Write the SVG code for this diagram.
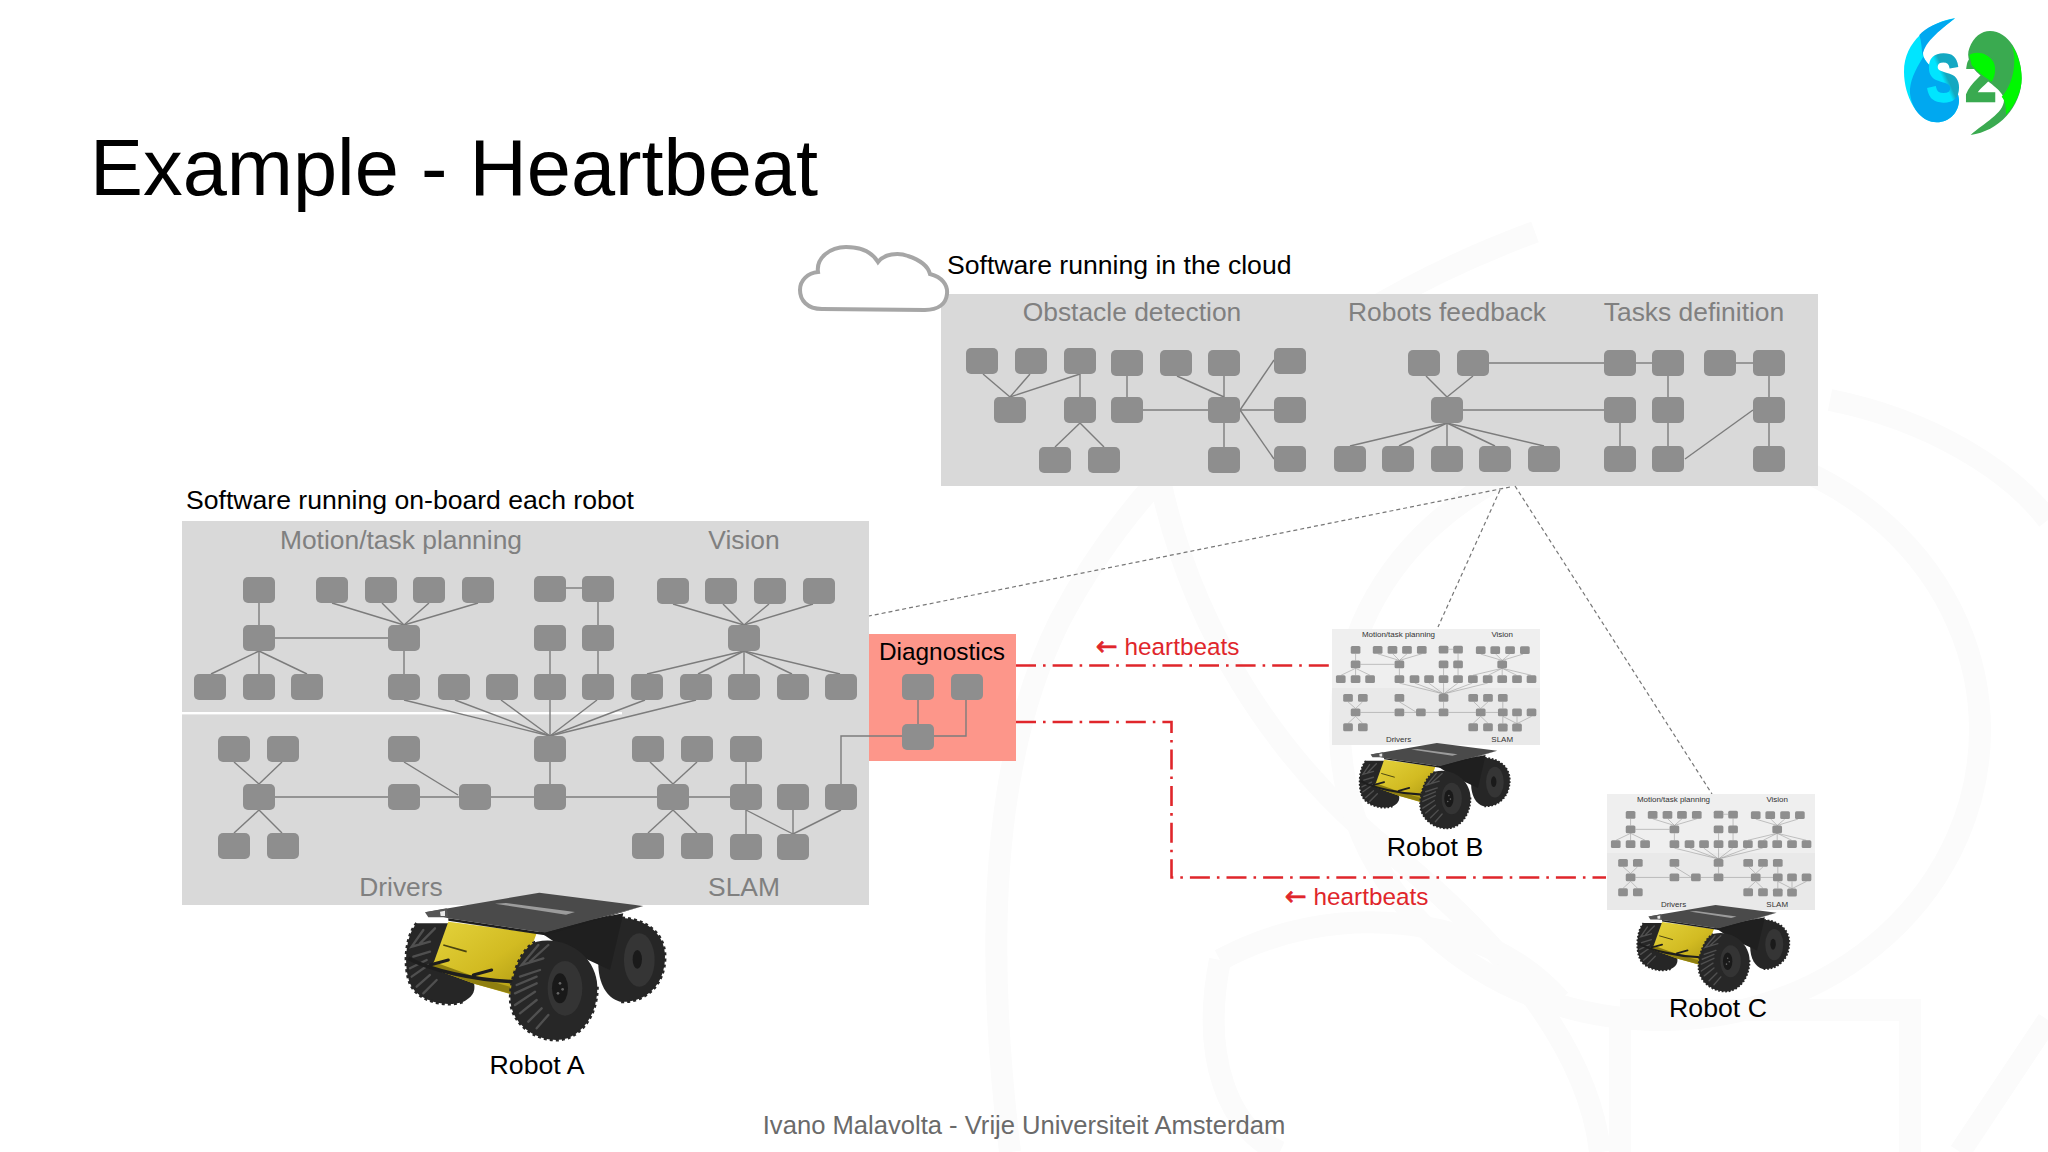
<svg xmlns="http://www.w3.org/2000/svg" xmlns:xlink="http://www.w3.org/1999/xlink" width="2048" height="1152" viewBox="0 0 2048 1152">
<style>
text{font-family:"Liberation Sans",Arial,sans-serif}
.n{fill:#8e8e8e;rx:5px;ry:5px}
.l line,.l polyline{stroke:#7c7c7c;stroke-width:1.4;fill:none}
.lab{font-size:26.4px;text-anchor:middle;fill:currentColor}
.cap{font-size:26.6px;fill:#000}
.rb{font-size:26.7px;fill:#000;text-anchor:middle}
.hb{font-size:24.3px;fill:#e0262b}
.arw{font-family:"DejaVu Sans",sans-serif;font-size:26px;stroke:#e0262b;stroke-width:.7}
.red{stroke:#e0262b;stroke-width:2.6;fill:none;stroke-dasharray:20 7 2.6 7}
.dash{stroke:#777;stroke-width:1.2;fill:none;stroke-dasharray:4 3}
.wm{fill:none;stroke:#fbfbfb;stroke-width:22}
.tread{fill:none;stroke:#505050;stroke-width:7;stroke-linecap:round}
.knob{fill:none;stroke:#262626;stroke-width:9;stroke-dasharray:9 9}
</style>
<defs>
<linearGradient id="yel" x1="0" y1="0" x2="1" y2="1"><stop offset="0" stop-color="#e4d33c"/><stop offset=".55" stop-color="#d2bb22"/><stop offset="1" stop-color="#a89410"/></linearGradient>
<linearGradient id="sg" x1="0" y1="1" x2="1" y2="0"><stop offset="0" stop-color="#00e5ff"/><stop offset=".48" stop-color="#00e5ff"/><stop offset=".56" stop-color="#14a8c0"/><stop offset="1" stop-color="#14a8c8"/></linearGradient>
<linearGradient id="tg" x1="0" y1="0" x2="0" y2="1"><stop offset="0" stop-color="#3aaa50"/><stop offset="1" stop-color="#3aaa50"/></linearGradient>
<g id="robot">
<path d="M110,130C75,170 70,260 90,310C110,360 190,385 250,365C290,345 285,320 280,300L210,130Z" fill="#262626"/>
<path class="knob" d="M110,130C75,170 70,260 90,310C110,360 190,385 250,365"/>
<path class="tread" d="M130,150L95,200L150,185M165,145L120,190M100,230L150,215M90,265L140,240M95,290L145,255M130,340L170,300M110,320L150,285"/>
<path d="M690,115C780,105 855,150 855,230C855,320 790,370 720,365C680,355 655,310 655,250Z" fill="#262626"/>
<path class="knob" d="M690,115C780,105 855,150 855,230C855,320 790,370 720,365"/>
<ellipse cx="778" cy="240" rx="46" ry="80" fill="#353535"/>
<ellipse cx="772" cy="238" rx="14" ry="28" fill="#1a1a1a"/>
<path d="M470,150L730,100L690,270L560,210Z" fill="#1f1f1f"/>
<path d="M205,125L470,160L400,345L285,312L155,265Z" fill="url(#yel)"/>
<path d="M155,265L285,312L395,342L390,320L285,290L160,245Z" fill="#8f7f10"/>
<path d="M190,195L260,215" stroke="#4a4410" stroke-width="5" fill="none"/>
<path d="M85,235C150,270 280,300 400,305" stroke="#1e1e1e" stroke-width="11" fill="none"/>
<path d="M150,255L205,240M280,285L335,270" stroke="#1e1e1e" stroke-width="9" stroke-linecap="round" fill="none"/>
<path d="M470,185C560,165 650,230 652,320C652,420 590,480 530,480C460,480 400,430 392,370C385,310 420,200 470,185Z" fill="#272727"/>
<path class="knob" d="M652,320C652,420 590,480 530,480C460,480 400,430 392,370C385,310 420,200 470,185"/>
<path class="tread" d="M475,195L425,255L490,235M505,195L450,245M420,290L480,270M410,315L470,290M405,340L470,310M405,375L465,335M420,400L470,360M445,425L485,385M470,445L505,405"/>
<ellipse cx="555" cy="325" rx="52" ry="82" fill="#343434"/>
<ellipse cx="540" cy="325" rx="24" ry="45" fill="#191919"/>
<circle cx="540" cy="310" r="4" fill="#666"/><circle cx="548" cy="328" r="4" fill="#666"/><circle cx="534" cy="340" r="4" fill="#666"/>
<path d="M135,97L478,38L790,78L495,158L205,115Z" fill="#4a4a4a"/>
<path d="M205,115L495,158L790,78L495,166L205,122Z" fill="#1e1e1e"/>
<path d="M135,97L200,85L205,112L145,112Z" fill="#555"/>
<path d="M180,95L195,92L195,108L182,108Z" fill="#e8e8e8"/>
<path d="M345,71L378,69L585,96L558,104Z" fill="#9c9c9c"/>
</g>
</defs>
<rect width="2048" height="1152" fill="#fff"/>
<g id="watermark">
<path class="wm" d="M1535,232C1350,300 1160,430 1060,620C990,760 985,950 1010,1152"/>
<path class="wm" d="M1160,480C1190,620 1270,760 1400,860C1520,960 1590,1060 1600,1152"/>
<ellipse class="wm" cx="1660" cy="730" rx="320" ry="290"/>
<path class="wm" d="M1220,960C1200,1060 1230,1130 1280,1152M1220,960C1330,900 1480,910 1560,1000"/>
<path class="wm" d="M1620,1010H1910V1152M1620,1010V1152"/>
<path class="wm" d="M1830,400C1930,420 2010,470 2048,520M1960,1152L2048,1020"/>
</g>
<g id="logo" transform="translate(1880,0) scale(.3333)">
<path d="M225,55C150,65 72,125 72,215C72,290 115,367 170,367C210,367 237,335 237,300C237,260 190,225 160,205C140,190 125,170 130,150C140,110 190,85 225,55Z" fill="#00e5ff"/>
<path d="M130,170C105,210 88,245 90,280C95,330 130,367 170,367C210,367 237,335 237,300C237,260 190,225 160,205C145,195 135,182 130,170Z" fill="#00a8f0"/>
<path d="M225,55C175,65 135,85 118,105C125,125 125,150 128,175C125,140 160,105 225,55Z" fill="#00a8f0"/>
<path d="M330,93C385,93 425,160 425,235C425,320 355,395 272,405C310,370 372,340 372,300C372,275 330,250 300,225C270,200 258,170 268,145C280,110 305,93 330,93Z" fill="#3aaa50"/>
<path d="M395,135C415,165 425,200 425,235C425,270 410,310 378,345C378,320 375,300 365,290C395,260 415,190 395,135Z" fill="#00f800"/>
<text transform="translate(140,303) scale(.75,1)" font-size="200" font-weight="700" fill="url(#sg)" stroke="url(#sg)" stroke-width="7">S</text>
<text transform="translate(255,303) scale(.85,1)" font-size="200" font-weight="700" fill="url(#tg)" stroke="#3aaa50" stroke-width="7">2</text>
<path d="M268,165C290,150 325,160 340,185C350,205 345,230 335,245C320,235 290,215 275,195Z" fill="#00f800"/>
</g>
<text id="title" x="90" y="195" font-size="79.4" fill="#000">Example - Heartbeat</text>
<text class="cap" x="947" y="274">Software running in the cloud</text>
<text class="cap" x="186" y="509">Software running on-board each robot</text>
<text x="1024" y="1134" font-size="25.6" text-anchor="middle" fill="#6a6a6a">Ivano Malavolta - Vrije Universiteit Amsterdam</text>

<g id="cloud-panel" style="color:#808080">
<rect x="941" y="294" width="877" height="192" fill="#d9d9d9"/>
<text class="lab" x="1132" y="321">Obstacle detection</text>
<text class="lab" x="1447" y="321">Robots feedback</text>
<text class="lab" x="1694" y="321">Tasks definition</text>
<g id="cloud-connectors" class="l">
<line x1="983" y1="374" x2="1010" y2="397"/><line x1="1030" y1="374" x2="1010" y2="397"/><line x1="1080" y1="374" x2="1010" y2="397"/>
<line x1="1080" y1="374" x2="1080" y2="397"/><line x1="1127" y1="376" x2="1127" y2="397"/><line x1="1177" y1="376" x2="1224" y2="397"/><line x1="1224" y1="376" x2="1224" y2="397"/>
<line x1="1143" y1="410" x2="1208" y2="410"/><line x1="1240" y1="410" x2="1274" y2="410"/><line x1="1240" y1="410" x2="1274" y2="360"/><line x1="1240" y1="410" x2="1274" y2="459"/>
<line x1="1224" y1="423" x2="1224" y2="447"/><line x1="1080" y1="423" x2="1055" y2="447"/><line x1="1080" y1="423" x2="1104" y2="447"/>
<line x1="1426" y1="376" x2="1447" y2="397"/><line x1="1473" y1="376" x2="1447" y2="397"/>
<line x1="1489" y1="363" x2="1604" y2="363"/><line x1="1636" y1="363" x2="1652" y2="363"/><line x1="1736" y1="363" x2="1753" y2="363"/>
<line x1="1668" y1="376" x2="1668" y2="397"/><line x1="1769" y1="376" x2="1769" y2="397"/><line x1="1463" y1="410" x2="1604" y2="410"/>
<line x1="1620" y1="423" x2="1620" y2="446"/><line x1="1668" y1="423" x2="1668" y2="446"/><line x1="1769" y1="423" x2="1769" y2="446"/>
<line x1="1685" y1="459" x2="1753" y2="410"/>
<line x1="1447" y1="423" x2="1350" y2="446"/><line x1="1447" y1="423" x2="1399" y2="446"/><line x1="1447" y1="423" x2="1447" y2="446"/><line x1="1447" y1="423" x2="1495" y2="446"/><line x1="1447" y1="423" x2="1544" y2="446"/>
</g>
<g id="c1"><rect class="n" x="966" y="348" width="32" height="26"/></g>
<g id="c2"><rect class="n" x="1015" y="348" width="32" height="26"/></g>
<g id="c3"><rect class="n" x="1064" y="348" width="32" height="26"/></g>
<g id="c4"><rect class="n" x="1111" y="350" width="32" height="26"/></g>
<g id="c5"><rect class="n" x="1160" y="350" width="32" height="26"/></g>
<g id="c6"><rect class="n" x="1208" y="350" width="32" height="26"/></g>
<g id="c7"><rect class="n" x="1274" y="348" width="32" height="26"/></g>
<g id="c8"><rect class="n" x="1408" y="350" width="32" height="26"/></g>
<g id="c9"><rect class="n" x="1457" y="350" width="32" height="26"/></g>
<g id="c10"><rect class="n" x="1604" y="350" width="32" height="26"/></g>
<g id="c11"><rect class="n" x="1652" y="350" width="32" height="26"/></g>
<g id="c12"><rect class="n" x="1704" y="350" width="32" height="26"/></g>
<g id="c13"><rect class="n" x="1753" y="350" width="32" height="26"/></g>
<g id="c14"><rect class="n" x="994" y="397" width="32" height="26"/></g>
<g id="c15"><rect class="n" x="1064" y="397" width="32" height="26"/></g>
<g id="c16"><rect class="n" x="1111" y="397" width="32" height="26"/></g>
<g id="c17"><rect class="n" x="1208" y="397" width="32" height="26"/></g>
<g id="c18"><rect class="n" x="1274" y="397" width="32" height="26"/></g>
<g id="c19"><rect class="n" x="1431" y="397" width="32" height="26"/></g>
<g id="c20"><rect class="n" x="1604" y="397" width="32" height="26"/></g>
<g id="c21"><rect class="n" x="1652" y="397" width="32" height="26"/></g>
<g id="c22"><rect class="n" x="1753" y="397" width="32" height="26"/></g>
<g id="c23"><rect class="n" x="1039" y="447" width="32" height="26"/></g>
<g id="c24"><rect class="n" x="1088" y="447" width="32" height="26"/></g>
<g id="c25"><rect class="n" x="1208" y="447" width="32" height="26"/></g>
<g id="c26"><rect class="n" x="1274" y="446" width="32" height="26"/></g>
<g id="c27"><rect class="n" x="1334" y="446" width="32" height="26"/></g>
<g id="c28"><rect class="n" x="1382" y="446" width="32" height="26"/></g>
<g id="c29"><rect class="n" x="1431" y="446" width="32" height="26"/></g>
<g id="c30"><rect class="n" x="1479" y="446" width="32" height="26"/></g>
<g id="c31"><rect class="n" x="1528" y="446" width="32" height="26"/></g>
<g id="c32"><rect class="n" x="1604" y="446" width="32" height="26"/></g>
<g id="c33"><rect class="n" x="1652" y="446" width="32" height="26"/></g>
<g id="c34"><rect class="n" x="1753" y="446" width="32" height="26"/></g>
</g>
<g id="cloud-icon"><path d="M822,309C807,309 800,300 800,290C800,280 808,273 818,272C816,258 830,247 846,247C860,247 872,252 878,262C884,254 898,252 908,256C920,260 928,266 930,274C942,277 948,285 947,294C946,304 938,310 925,310Z" fill="#fff" stroke="#a6a6a6" stroke-width="4"/></g>

<rect x="182" y="521" width="687" height="384" fill="#d9d9d9"/>
<rect x="182" y="712" width="440" height="2.4" fill="#fff"/>
<g style="color:#808080">
<g id="onboard">
<text class="lab" x="401" y="549">Motion/task planning</text>
<text class="lab" x="744" y="549">Vision</text>
<text class="lab" x="401" y="896">Drivers</text>
<text class="lab" x="744" y="896">SLAM</text>
<g id="onboard-connectors" class="l">
<line x1="259" y1="603" x2="259" y2="625"/><line x1="275" y1="638" x2="388" y2="638"/>
<line x1="332" y1="603" x2="404" y2="625"/><line x1="382" y1="603" x2="404" y2="625"/><line x1="429" y1="603" x2="404" y2="625"/><line x1="478" y1="603" x2="404" y2="625"/>
<line x1="404" y1="651" x2="404" y2="674"/>
<line x1="259" y1="651" x2="211" y2="674"/><line x1="259" y1="651" x2="259" y2="674"/><line x1="259" y1="651" x2="307" y2="674"/>
<line x1="566" y1="588" x2="582" y2="588"/><line x1="598" y1="602" x2="598" y2="674"/><line x1="550" y1="651" x2="550" y2="674"/>
<line x1="673" y1="604" x2="744" y2="625"/><line x1="723" y1="604" x2="744" y2="625"/><line x1="769" y1="604" x2="744" y2="625"/><line x1="813" y1="604" x2="744" y2="625"/>
<line x1="744" y1="651" x2="647" y2="674"/><line x1="744" y1="651" x2="698" y2="674"/><line x1="744" y1="651" x2="744" y2="674"/><line x1="744" y1="651" x2="792" y2="674"/><line x1="744" y1="651" x2="840" y2="674"/>
<line x1="404" y1="700" x2="550" y2="736"/><line x1="455" y1="700" x2="550" y2="736"/><line x1="501" y1="700" x2="550" y2="736"/><line x1="550" y1="700" x2="550" y2="736"/><line x1="597" y1="700" x2="550" y2="736"/><line x1="645" y1="700" x2="550" y2="736"/><line x1="696" y1="700" x2="550" y2="736"/>
<line x1="550" y1="762" x2="550" y2="784"/>
<line x1="234" y1="762" x2="259" y2="784"/><line x1="282" y1="762" x2="259" y2="784"/><line x1="275" y1="797" x2="388" y2="797"/><line x1="420" y1="797" x2="459" y2="797"/><line x1="404" y1="762" x2="458" y2="795"/>
<line x1="491" y1="797" x2="534" y2="797"/><line x1="566" y1="797" x2="657" y2="797"/><line x1="689" y1="797" x2="730" y2="797"/>
<line x1="259" y1="810" x2="234" y2="833"/><line x1="259" y1="810" x2="282" y2="833"/>
<line x1="650" y1="762" x2="673" y2="784"/><line x1="697" y1="762" x2="673" y2="784"/><line x1="673" y1="810" x2="648" y2="833"/><line x1="673" y1="810" x2="697" y2="833"/>
<line x1="746" y1="762" x2="746" y2="784"/><line x1="746" y1="810" x2="746" y2="834"/><line x1="746" y1="810" x2="793" y2="834"/><line x1="793" y1="810" x2="793" y2="834"/><line x1="841" y1="810" x2="793" y2="834"/>
</g>
<g id="a1"><rect class="n" x="243" y="577" width="32" height="26"/></g>
<g id="a2"><rect class="n" x="316" y="577" width="32" height="26"/></g>
<g id="a3"><rect class="n" x="365" y="577" width="32" height="26"/></g>
<g id="a4"><rect class="n" x="413" y="577" width="32" height="26"/></g>
<g id="a5"><rect class="n" x="462" y="577" width="32" height="26"/></g>
<g id="a6"><rect class="n" x="534" y="576" width="32" height="26"/></g>
<g id="a7"><rect class="n" x="582" y="576" width="32" height="26"/></g>
<g id="a8"><rect class="n" x="657" y="578" width="32" height="26"/></g>
<g id="a9"><rect class="n" x="705" y="578" width="32" height="26"/></g>
<g id="a10"><rect class="n" x="754" y="578" width="32" height="26"/></g>
<g id="a11"><rect class="n" x="803" y="578" width="32" height="26"/></g>
<g id="a12"><rect class="n" x="243" y="625" width="32" height="26"/></g>
<g id="a13"><rect class="n" x="388" y="625" width="32" height="26"/></g>
<g id="a14"><rect class="n" x="534" y="625" width="32" height="26"/></g>
<g id="a15"><rect class="n" x="582" y="625" width="32" height="26"/></g>
<g id="a16"><rect class="n" x="728" y="625" width="32" height="26"/></g>
<g id="a17"><rect class="n" x="194" y="674" width="32" height="26"/></g>
<g id="a18"><rect class="n" x="243" y="674" width="32" height="26"/></g>
<g id="a19"><rect class="n" x="291" y="674" width="32" height="26"/></g>
<g id="a20"><rect class="n" x="388" y="674" width="32" height="26"/></g>
<g id="a21"><rect class="n" x="438" y="674" width="32" height="26"/></g>
<g id="a22"><rect class="n" x="486" y="674" width="32" height="26"/></g>
<g id="a23"><rect class="n" x="534" y="674" width="32" height="26"/></g>
<g id="a24"><rect class="n" x="582" y="674" width="32" height="26"/></g>
<g id="a25"><rect class="n" x="631" y="674" width="32" height="26"/></g>
<g id="a26"><rect class="n" x="680" y="674" width="32" height="26"/></g>
<g id="a27"><rect class="n" x="728" y="674" width="32" height="26"/></g>
<g id="a28"><rect class="n" x="777" y="674" width="32" height="26"/></g>
<g id="a29"><rect class="n" x="825" y="674" width="32" height="26"/></g>
<g id="a30"><rect class="n" x="218" y="736" width="32" height="26"/></g>
<g id="a31"><rect class="n" x="267" y="736" width="32" height="26"/></g>
<g id="a32"><rect class="n" x="388" y="736" width="32" height="26"/></g>
<g id="a33"><rect class="n" x="534" y="736" width="32" height="26"/></g>
<g id="a34"><rect class="n" x="632" y="736" width="32" height="26"/></g>
<g id="a35"><rect class="n" x="681" y="736" width="32" height="26"/></g>
<g id="a36"><rect class="n" x="730" y="736" width="32" height="26"/></g>
<g id="a37"><rect class="n" x="243" y="784" width="32" height="26"/></g>
<g id="a38"><rect class="n" x="388" y="784" width="32" height="26"/></g>
<g id="a39"><rect class="n" x="459" y="784" width="32" height="26"/></g>
<g id="a40"><rect class="n" x="534" y="784" width="32" height="26"/></g>
<g id="a41"><rect class="n" x="657" y="784" width="32" height="26"/></g>
<g id="a42"><rect class="n" x="730" y="784" width="32" height="26"/></g>
<g id="a43"><rect class="n" x="777" y="784" width="32" height="26"/></g>
<g id="a44"><rect class="n" x="825" y="784" width="32" height="26"/></g>
<g id="a45"><rect class="n" x="218" y="833" width="32" height="26"/></g>
<g id="a46"><rect class="n" x="267" y="833" width="32" height="26"/></g>
<g id="a47"><rect class="n" x="632" y="833" width="32" height="26"/></g>
<g id="a48"><rect class="n" x="681" y="833" width="32" height="26"/></g>
<g id="a49"><rect class="n" x="730" y="834" width="32" height="26"/></g>
<g id="a50"><rect class="n" x="777" y="834" width="32" height="26"/></g>
</g>
</g>

<g id="diagnostics">
<rect x="869" y="634" width="147" height="127" fill="#fd968a"/>
<text x="942" y="660" font-size="24.4" text-anchor="middle" fill="#000">Diagnostics</text>
</g>
<g id="connectors">
<g class="l">
<polyline points="841,784 841,736 902,736"/>
<line x1="918" y1="700" x2="918" y2="724"/>
<polyline points="966,700 966,736 934,736"/>
</g>
<path class="dash" d="M1510,487L869,616"/>
<path class="dash" d="M1500,490L1438,627"/>
<path class="dash" d="M1515,486L1712,794"/>
<path class="red" d="M1016,665.5H1332"/>
<path class="red" d="M1016,722H1171.5V877.5H1606"/>
</g>
<g id="d1"><rect class="n" x="902" y="674" width="32" height="26"/></g>
<g id="d2"><rect class="n" x="951" y="674" width="32" height="26"/></g>
<g id="d3"><rect class="n" x="902" y="724" width="32" height="26"/></g>
<text class="hb" x="1096" y="655"><tspan class="arw">←</tspan> heartbeats</text>
<text class="hb" x="1285" y="905"><tspan class="arw">←</tspan> heartbeats</text>

<g id="robot-a"><use href="#robot" transform="translate(380,880) scale(.3333)"/><text class="rb" x="537" y="1074">Robot A</text></g>
<g id="robot-b">
<rect x="1332" y="629" width="208" height="116" fill="#e9e9e9"/>
<rect x="1332" y="629" width="208" height="59" fill="#efefef"/>
<use href="#onboard" transform="translate(1332,629) scale(.3023) translate(-181,-521)" style="color:#333"/>
<use href="#robot" transform="translate(1344.5,735.7) scale(.1933)"/>
<text class="rb" x="1435" y="856">Robot B</text>
</g>
<g id="robot-c">
<rect x="1607" y="794" width="208" height="116" fill="#e9e9e9"/>
<rect x="1607" y="794" width="208" height="59" fill="#efefef"/>
<use href="#onboard" transform="translate(1607,794) scale(.3023) translate(-181,-521)" style="color:#333"/>
<use href="#robot" transform="translate(1622,897.6) scale(.1957)"/>
<text class="rb" x="1718" y="1017">Robot C</text>
</g>
</svg>
